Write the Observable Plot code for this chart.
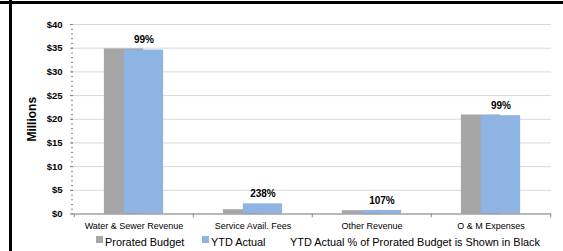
<!DOCTYPE html>
<html>
<head>
<meta charset="utf-8">
<script src="https://cdn.jsdelivr.net/npm/d3@7"></script>
<script src="https://cdn.jsdelivr.net/npm/@observablehq/plot@0.6"></script>
<style>
  html, body { margin: 0; padding: 0; background: #fff; }
  body { width: 563px; height: 251px; position: relative; overflow: hidden; font-family: "Liberation Sans", Arial, sans-serif; }
  #topline { position: absolute; left: 0; top: 1px; width: 563px; height: 3px; background: #000; }
  #leftline { position: absolute; left: 9px; top: 0; width: 3px; height: 251px; background: #000; }
  #chart { position: absolute; left: 0; top: 0; }
  #legend { position: absolute; left: 0; top: 236px; width: 563px; height: 15px; font-size: 10.9px; color: #000; }
  #legend span { position: absolute; top: 0; white-space: nowrap; }
  .sw { display: inline-block; width: 7px; height: 7px; position: absolute; top: 4px; }
</style>
</head>
<body>
<div id="chart"></div>
<div id="legend"></div>
<div id="topline"></div>
<div id="leftline"></div>
<script>
const categories = ["Water & Sewer Revenue", "Service Avail. Fees", "Other Revenue", "O & M Expenses"];
const proratedBudget = [34.85, 0.9, 0.7, 20.9];
const ytdActual = [34.6, 2.15, 0.75, 20.75];
const pctLabels = ["99%", "238%", "107%", "99%"];
const yTicks = [0, 5, 10, 15, 20, 25, 30, 35, 40];
const seriesNames = ["Prorated Budget", "YTD Actual"];
const colors = ["#a6a6a6", "#8eb4e3"];
const legendNote = "YTD Actual % of Prorated Budget is Shown in Black";

const rows = categories.map((c, i) => ({cat: c, budget: proratedBudget[i], actual: ytdActual[i], pct: pctLabels[i]}));

const W = 563, H = 236;
const mL = 73, mR = 12, mT = 24, mB = 22.5;
const bw = (W - mL - mR) / categories.length;
const barW = bw / 3;
const greyLeft = (bw - 1.5 * barW) / 2;
const blueLeft = greyLeft + barW / 2;

const plot = Plot.plot({
  width: W,
  height: H,
  marginLeft: mL,
  marginRight: mR,
  marginTop: mT,
  marginBottom: mB,
  style: {fontFamily: "Liberation Sans, Arial, sans-serif", background: "transparent", overflow: "visible"},
  x: {type: "band", domain: categories, padding: 0},
  y: {domain: [0, 40]},
  marks: [
    Plot.gridY(yTicks, {stroke: "#d9d9d9", strokeOpacity: 1}),
    Plot.barY(rows, {x: "cat", y: "budget", fill: colors[0],
      insetLeft: greyLeft, insetRight: bw - greyLeft - barW}),
    Plot.barY(rows, {x: "cat", y: "actual", fill: colors[1],
      insetLeft: blueLeft, insetRight: bw - blueLeft - barW}),
    Plot.text(rows, {x: "cat", y: "actual", text: "pct", dx: barW / 4, dy: -10,
      fontWeight: "bold", fontSize: 10, fill: "#000"}),
    Plot.axisY(yTicks, {tickSize: 3, tickPadding: 8, stroke: "#868686", tickFormat: d => "$" + d,
      fontWeight: "bold", fontSize: 9.5, label: "Millions", labelAnchor: "center", labelOffset: 46, labelArrow: "none"}),
    Plot.axisY(d3.range(0, 41, 1), {tickSize: 2, text: null, label: null, stroke: "#868686"}),
    Plot.ruleX([0], {x: () => 0, frameAnchor: "left", stroke: "#868686"}),
    Plot.ruleY([0], {stroke: "#868686"}),
    Plot.ruleX(categories, {x: d => d, dx: -bw / 2, y1: 0, y2: -0.8, stroke: "#868686"}),
    Plot.ruleX(categories.slice(-1), {x: d => d, dx: bw / 2, y1: 0, y2: -0.8, stroke: "#868686"}),
    Plot.axisX({tickSize: 0, tickPadding: 9, fontSize: 9, label: null})
  ]
});
document.getElementById("chart").appendChild(plot);

d3.select(plot).selectAll("[aria-label='y-axis label'] text").attr("font-weight", "bold").attr("font-size", 12);

const lg = document.getElementById("legend");
lg.innerHTML =
  `<span class="sw" style="left:96px;background:${colors[0]}"></span><span style="left:105px">${seriesNames[0]}</span>` +
  `<span class="sw" style="left:202px;background:${colors[1]}"></span><span style="left:211px">${seriesNames[1]}</span>` +
  `<span style="left:290px">${legendNote}</span>`;
</script>
</body>
</html>
